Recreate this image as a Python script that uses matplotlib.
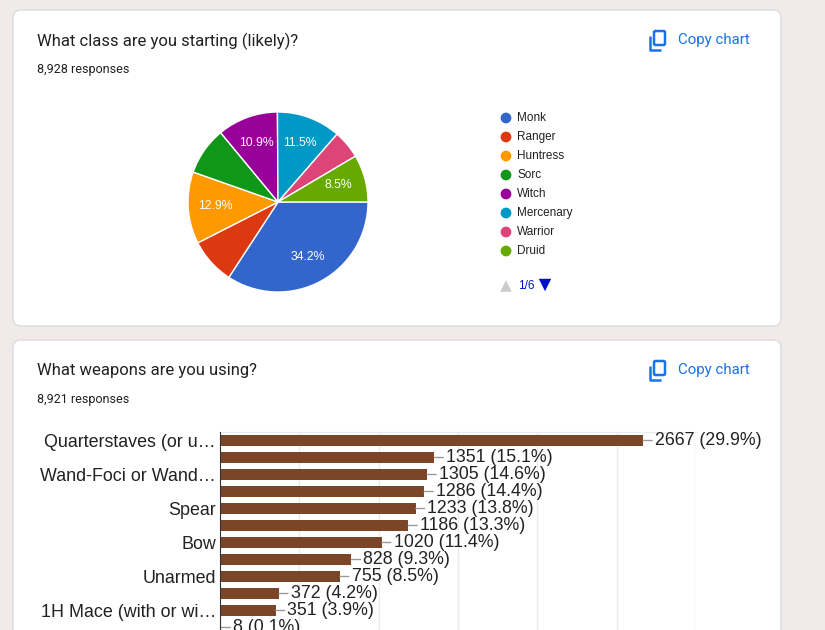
import matplotlib
matplotlib.use("Agg")
import matplotlib.pyplot as plt
from matplotlib.patches import FancyBboxPatch
import numpy as np

W, H = 825, 630

# pie: class shares (%)
classes = ["Monk", "Ranger", "Huntress", "Sorc", "Witch", "Mercenary", "Warrior", "Druid"]
class_pct = [34.2, 8.3, 12.9, 8.6, 10.9, 11.5, 5.1, 8.5]
class_colors = ["#3366cc", "#dc3912", "#ff9900", "#109618", "#990099", "#0099c6", "#dd4477", "#66aa00"]
# slices whose label fits inside
class_shown = [True, False, True, False, True, True, False, True]

# bar: weapons (only every other label fits)
weapon_labels = ["Quarterstaves (or u\u2026", "", "Wand-Foci or Wand\u2026", "", "Spear", "",
                 "Bow", "", "Unarmed", "", "1H Mace (with or wi\u2026", ""]
weapon_counts = [2667, 1351, 1305, 1286, 1233, 1186, 1020, 828, 755, 372, 351, 8]
weapon_pct = [29.9, 15.1, 14.6, 14.4, 13.8, 13.3, 11.4, 9.3, 8.5, 4.2, 3.9, 0.1]

plt.rcParams["font.family"] = ["Liberation Sans", "DejaVu Sans"]

fig = plt.figure(figsize=(W / 100, H / 100), dpi=100)
fig.patch.set_facecolor("#f0ebe8")


def px_axes(x0, y0, x1, y1):
    # pixel box (top-left origin) -> figure fraction axes
    return fig.add_axes([x0 / W, (H - y1) / H, (x1 - x0) / W, (y1 - y0) / H])


# page layer: cards and headings
bg = px_axes(0, 0, W, H)
bg.set_xlim(0, W)
bg.set_ylim(H, 0)
bg.axis("off")

for top, bottom in [(10, 326), (340, 700)]:
    bg.add_patch(FancyBboxPatch((13, top), 768, bottom - top,
                                boxstyle="round,pad=0,rounding_size=8",
                                facecolor="white", edgecolor="#dadce0", lw=1))

heads = [("What class are you starting (likely)?", "8,928 responses", 41, 70),
         ("What weapons are you using?", "8,921 responses", 371, 399)]
for title, sub, ty, sy in heads:
    bg.text(37, ty, title, fontsize=12, family=["Roboto", "DejaVu Sans"],
            color="#202124", va="center")
    bg.text(37, sy, sub, fontsize=9, family=["Roboto", "DejaVu Sans"],
            color="#202124", va="center")
    # copy icon
    bg.add_patch(FancyBboxPatch((654, ty - 10), 11, 14, boxstyle="round,pad=0,rounding_size=1.5",
                                facecolor="none", edgecolor="#1a73e8", lw=1.8))
    bg.plot([650, 650, 661], [ty - 5, ty + 9, ty + 9], color="#1a73e8", lw=1.8,
            solid_capstyle="butt")
    bg.text(678, ty - 1, "Copy chart", fontsize=10.8, family=["Roboto", "DejaVu Sans"],
            color="#1a73e8", va="center")

# legend for the pie
for i, (name, c) in enumerate(zip(classes, class_colors)):
    y = 118 + 19 * i
    bg.scatter([506], [y], s=60, color=c, edgecolors="none")
    bg.text(517, y, name, fontsize=8.5, color="#222222", va="center")
bg.scatter([506], [286], marker="^", s=70, color="#cccccc", edgecolors="none")
bg.text(518, 286, "1/6", fontsize=8.5, color="#0011cc", va="center")
bg.scatter([545], [285], marker="v", s=80, color="#0011cc", edgecolors="none")

# pie
cx, cy, r = 278, 202, 90
pax = px_axes(cx - r, cy - r, cx + r, cy + r)
wedges, texts, autotexts = pax.pie(
    class_pct, colors=class_colors, startangle=0, counterclock=False,
    autopct="%.1f%%", pctdistance=0.7, radius=1.0,
    wedgeprops=dict(edgecolor="white", linewidth=1),
    textprops=dict(color="white", fontsize=8.8))
for t, shown in zip(autotexts, class_shown):
    if not shown:
        t.set_text("")
pax.set_xlim(-1, 1)
pax.set_ylim(-1, 1)

# bar chart
row_h = 17
n = len(weapon_counts)
bax = px_axes(220, 432, 696, 432 + row_h * n)
bax.patch.set_alpha(0)
y = np.arange(n)
bax.barh(y, weapon_counts, height=0.59, color="#7b4528", zorder=3)
bax.set_xlim(0, 3000)
bax.set_ylim(n - 0.5, -0.5)
bax.set_xticks(np.arange(0, 3001, 500))
bax.set_xticklabels([])
bax.tick_params(axis="x", length=0)
bax.grid(axis="x", color="#ebebeb", lw=1, zorder=0)
bax.set_yticks(y)
bax.set_yticklabels(weapon_labels, fontsize=12.9, color="#222222")
bax.tick_params(axis="y", length=0, pad=3)
for s in ["right", "bottom"]:
    bax.spines[s].set_visible(False)
bax.spines["top"].set_color("#ebebeb")
bax.spines["left"].set_color("#333333")
bax.spines["left"].set_zorder(4)

for i, (v, p) in enumerate(zip(weapon_counts, weapon_pct)):
    bax.annotate(f"{v} ({p}%)", xy=(v, i), xytext=(8.5, 0), textcoords="offset points",
                 ha="left", va="center", fontsize=12.8, color="#222222",
                 annotation_clip=False,
                 arrowprops=dict(arrowstyle="-", color="#999999", lw=1,
                                 shrinkA=0, shrinkB=0))

fig.savefig("out.png", dpi=100)
